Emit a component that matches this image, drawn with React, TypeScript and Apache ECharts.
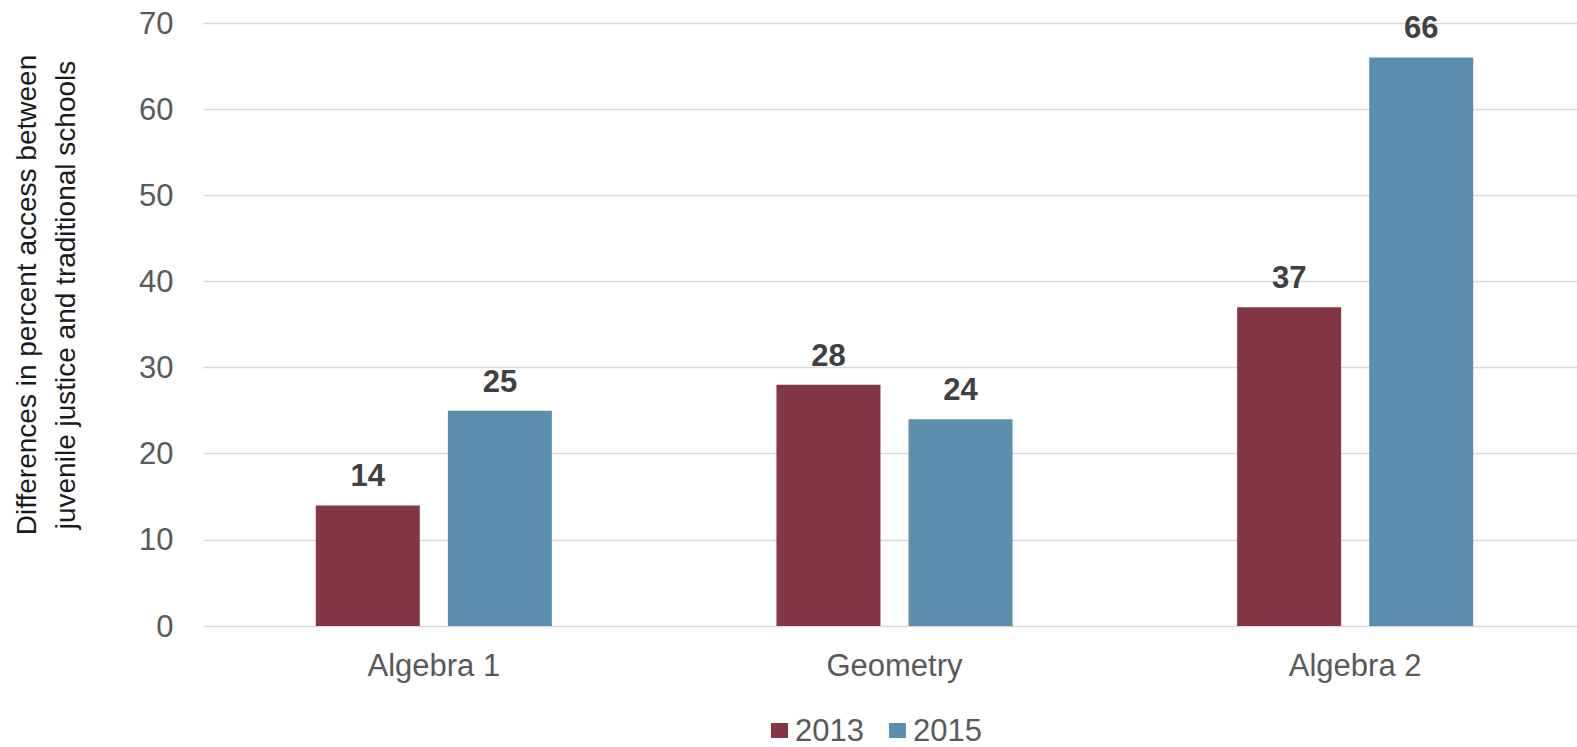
import React, { useEffect, useRef } from "react";
import * as echarts from "echarts";

const categories = ["Algebra 1", "Geometry", "Algebra 2"];
const seriesNames = ["2013", "2015"];
const values2013 = [14, 28, 37];
const values2015 = [25, 24, 66];
const yTicks = { min: 0, max: 70, interval: 10 };
const yAxisTitle = [
  "Differences in percent access between",
  "juvenile justice and traditional schools",
];
const colors = ["#833745", "#5B8FAD"];

const FONT = '"Liberation Sans", Arial, sans-serif';

export default function App() {
  const ref = useRef<HTMLDivElement>(null);

  useEffect(() => {
    if (!ref.current) return;
    const chart = echarts.init(ref.current, null, { renderer: "svg" });
    const label = {
      show: true,
      position: "top" as const,
      distance: 14,
      fontFamily: FONT,
      fontSize: 31,
      fontWeight: "bold" as const,
      color: "#404040",
    };
    chart.setOption({
      animation: false,
      backgroundColor: "#ffffff",
      textStyle: { fontFamily: FONT },
      grid: {
        left: 203.5,
        width: 1382,
        top: 23,
        height: 603,
        containLabel: false,
        outerBoundsMode: "none",
      },
      legend: {
        data: seriesNames,
        left: 771,
        top: 715,
        padding: 0,
        itemWidth: 17,
        itemHeight: 15,
        itemGap: 25,
        icon: "rect",
        textStyle: { fontFamily: FONT, fontSize: 31, color: "#595959", padding: [0, 0, 0, 2] },
      },
      xAxis: {
        type: "category",
        data: categories,
        axisLine: { show: false },
        axisTick: { show: false },
        axisLabel: { margin: 24, fontFamily: FONT, fontSize: 31, color: "#595959" },
      },
      yAxis: {
        type: "value",
        min: yTicks.min,
        max: yTicks.max,
        interval: yTicks.interval,
        axisLine: { show: false },
        axisTick: { show: false },
        axisLabel: { margin: 30, fontFamily: FONT, fontSize: 31, color: "#595959" },
        splitLine: { show: true, lineStyle: { color: "#D9D9D9", width: 1.3 } },
      },
      graphic: [
        {
          type: "text",
          x: 46,
          y: 295,
          rotation: Math.PI / 2,
          style: {
            text: yAxisTitle.join("\n"),
            font: `28px ${FONT}`,
            fill: "#1a1a1a",
            align: "center",
            verticalAlign: "middle",
            lineHeight: 39,
          },
        },
      ],
      series: [
        {
          name: seriesNames[0],
          type: "bar",
          data: values2013,
          barWidth: 104,
          barGap: "27%",
          itemStyle: { color: colors[0] },
          label,
        },
        {
          name: seriesNames[1],
          type: "bar",
          data: values2015,
          barWidth: 104,
          barGap: "27%",
          itemStyle: { color: colors[1] },
          label,
        },
      ],
    });
    return () => chart.dispose();
  }, []);

  return (
    <div
      style={{
        position: "fixed",
        left: 0,
        top: 0,
        width: 1577,
        height: 747,
        overflow: "hidden",
        background: "#ffffff",
      }}
    >
      <div ref={ref} style={{ width: 1600, height: 747 }} />
    </div>
  );
}
